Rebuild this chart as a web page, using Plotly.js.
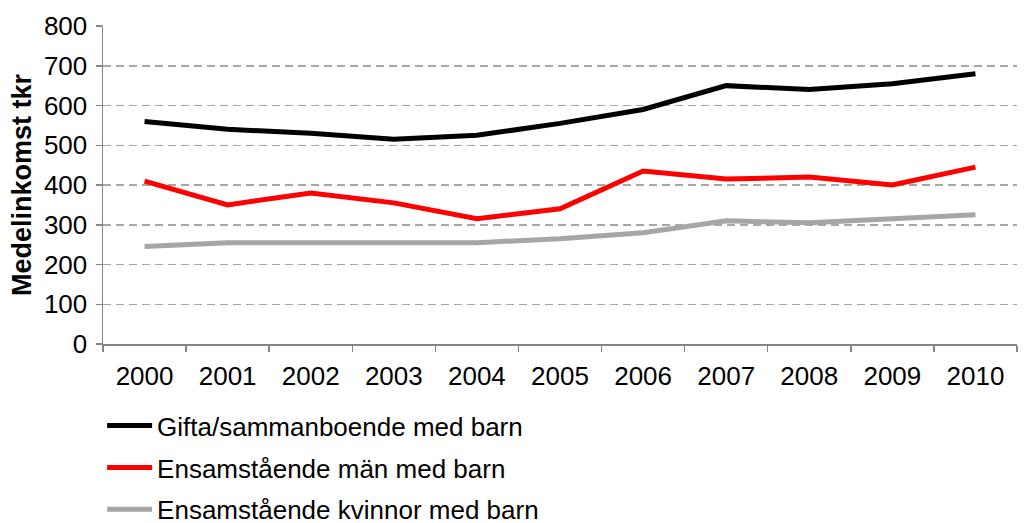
<!DOCTYPE html>
<html><head><meta charset="utf-8">
<script src="https://cdn.plot.ly/plotly-3.0.1.min.js"></script>
<style>body{margin:0;background:#fff}#chart{width:1025px;height:523px}</style>
</head><body><div id="chart"></div>
<script>
const years = ["2000","2001","2002","2003","2004","2005","2006","2007","2008","2009","2010"];
const gifta = [560,540,530,515,525,555,590,650,640,655,680];
const man = [410,350,380,355,315,340,435,415,420,400,445];
const kvinnor = [245,255,255,255,255,265,280,310,305,315,325];
const names = ["Gifta/sammanboende med barn","Ensamstående män med barn","Ensamstående kvinnor med barn"];
const yTicks = [0,100,200,300,400,500,600,700,800];

const mk = (y, name, color, g) => ({
  x: years, y: y, name: name, type: 'scatter', mode: 'lines',
  line: {color: color, width: 5}, legendgroup: g
});
const data = [mk(gifta,names[0],'#000000','a'), mk(man,names[1],'#FF0000','b'), mk(kvinnor,names[2],'#A6A6A6','c')];
const layout = {
  width: 1025, height: 523,
  margin: {l: 103, r: 8, t: 26, b: 179, autoexpand: false},
  paper_bgcolor: '#fff', plot_bgcolor: '#fff',
  font: {family: 'Liberation Sans, Arial, sans-serif', size: 26, color: '#000'},
  showlegend: true,
  legend: {orientation: 'v', x: -0.001, xanchor: 'left', y: -0.183, yanchor: 'top',
    traceorder: 'grouped', tracegroupgap: 5, itemwidth: 45, font: {size: 26}, bgcolor: 'rgba(0,0,0,0)'},
  xaxis: {type: 'category', range: [-0.5, 10.5], showline: true, linecolor: '#868686', linewidth: 1.5,
    ticks: 'outside', tickson: 'boundaries', ticklen: 6, tickcolor: '#868686', tickwidth: 1.5, showgrid: false,
    tickangle: 0, ticklabelstandoff: 8, tickfont: {size: 26}, fixedrange: true},
  yaxis: {range: [0, 800], tickvals: yTicks, showline: true, linecolor: '#868686', linewidth: 1.5,
    ticks: 'outside', ticklen: 6, tickcolor: '#868686', tickwidth: 1.5, showgrid: true, gridcolor: '#A6A6A6',
    griddash: '8px,5px', gridwidth: 1.5, zeroline: false, ticklabelstandoff: 3, tickfont: {size: 26},
    title: {text: '<b>Medelinkomst tkr</b>', font: {size: 27}, standoff: 4}}
};
Plotly.newPlot('chart', data, layout, {displayModeBar: false, staticPlot: true});
</script></body></html>
